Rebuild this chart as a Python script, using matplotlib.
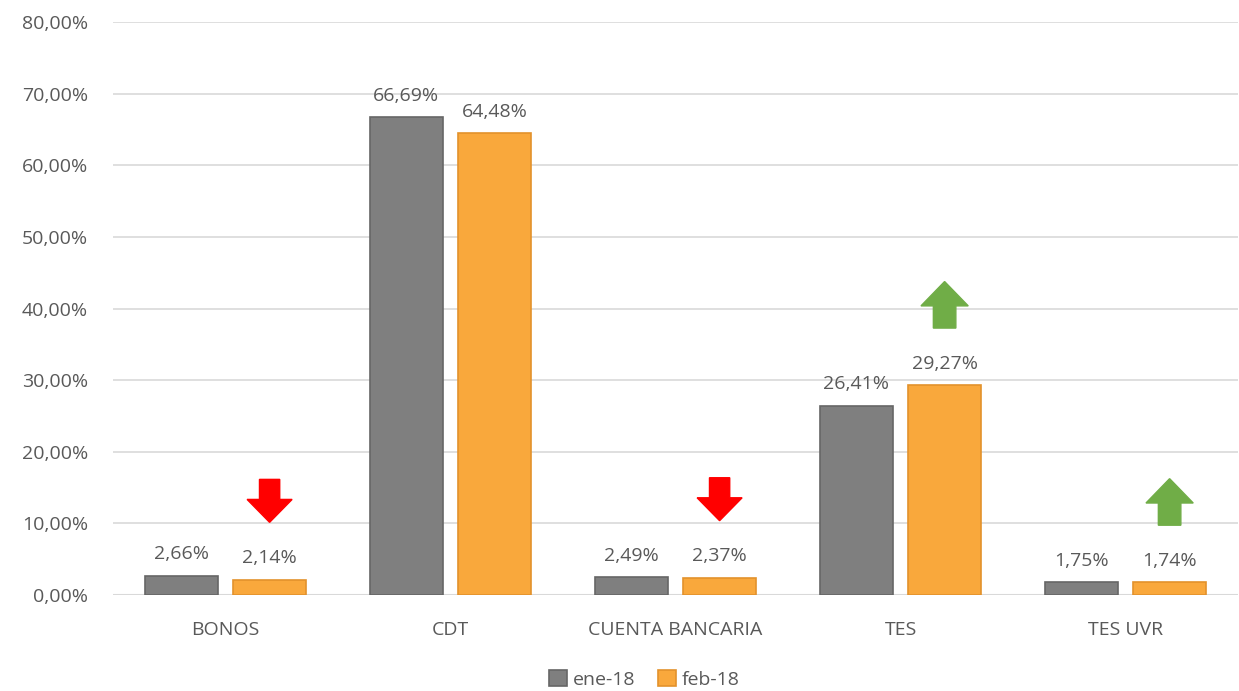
import numpy as np
import matplotlib.pyplot as plt
from matplotlib.patches import FancyArrow

categories = ["BONOS", "CDT", "CUENTA BANCARIA", "TES", "TES UVR"]
ene_18 = [2.66, 66.69, 2.49, 26.41, 1.75]
feb_18 = [2.14, 64.48, 2.37, 29.27, 1.74]
series_names = ["ene-18", "feb-18"]
# arrow drawn above the feb-18 bar: -1 down (red), 1 up (green), 0 none
trend = [-1, 0, -1, 1, 1]
yticks = [0, 10, 20, 30, 40, 50, 60, 70, 80]

plt.rcParams['font.family'] = ['Open Sans', 'DejaVu Sans']
txt = '#595959'
fs = 14

fig = plt.figure(figsize=(12.39, 6.91), dpi=100)
ax = fig.add_axes([0.0912, 0.139, 0.908, 0.829])

x = np.arange(len(categories))
w = 0.325
gap = 0.067
xg = x - (w + gap) / 2
xo = x + (w + gap) / 2

ax.bar(xg, ene_18, w, color='#7f7f7f', edgecolor='#666666', linewidth=1.2,
       label=series_names[0], zorder=3)
ax.bar(xo, feb_18, w, color='#f9a83c', edgecolor='#e3922c', linewidth=1.2,
       label=series_names[1], zorder=3)

def fmt(v):
    return f"{v:.2f}%".replace('.', ',')

for xs, vals in [(xg, ene_18), (xo, feb_18)]:
    for xi, v in zip(xs, vals):
        ax.annotate(fmt(v), (xi, v), xytext=(0, 9), textcoords='offset points',
                    ha='center', va='bottom', fontsize=fs, color=txt)

for xi, b, t in zip(xo, feb_18, trend):
    base = b + 8.0
    if t < 0:
        arr = FancyArrow(xi, base + 6.0, 0, -6.0, width=0.09, head_width=0.2,
                         head_length=3.2, length_includes_head=True,
                         color='#ff0000', zorder=4)
    elif t > 0:
        arr = FancyArrow(xi, base, 0, 6.5, width=0.1, head_width=0.21,
                         head_length=3.4, length_includes_head=True,
                         color='#70ad47', zorder=4)
    else:
        continue
    ax.add_patch(arr)

ax.set_xlim(-0.5, len(categories) - 0.5)
ax.set_ylim(0, 80)
ax.set_yticks(yticks)
ax.set_yticklabels([f"{v},00%" for v in yticks])
ax.set_xticks(x)
ax.set_xticklabels(categories)
ax.tick_params(axis='both', length=0, labelsize=fs, colors=txt)
ax.tick_params(axis='x', pad=19)
ax.tick_params(axis='y', pad=18)
ax.grid(axis='y', color='#d9d9d9', linewidth=1.2, zorder=0)
for s in ax.spines.values():
    s.set_visible(False)
ax.axhline(0, color='#d9d9d9', linewidth=1.5, zorder=2)

fig.legend(loc='center', bbox_to_anchor=(0.52, 0.017), ncol=2, frameon=False,
           fontsize=fs, handlelength=0.9, handleheight=0.9, handletextpad=0.3,
           columnspacing=1.2, labelcolor=txt)

fig.savefig('out.png', dpi=100)
